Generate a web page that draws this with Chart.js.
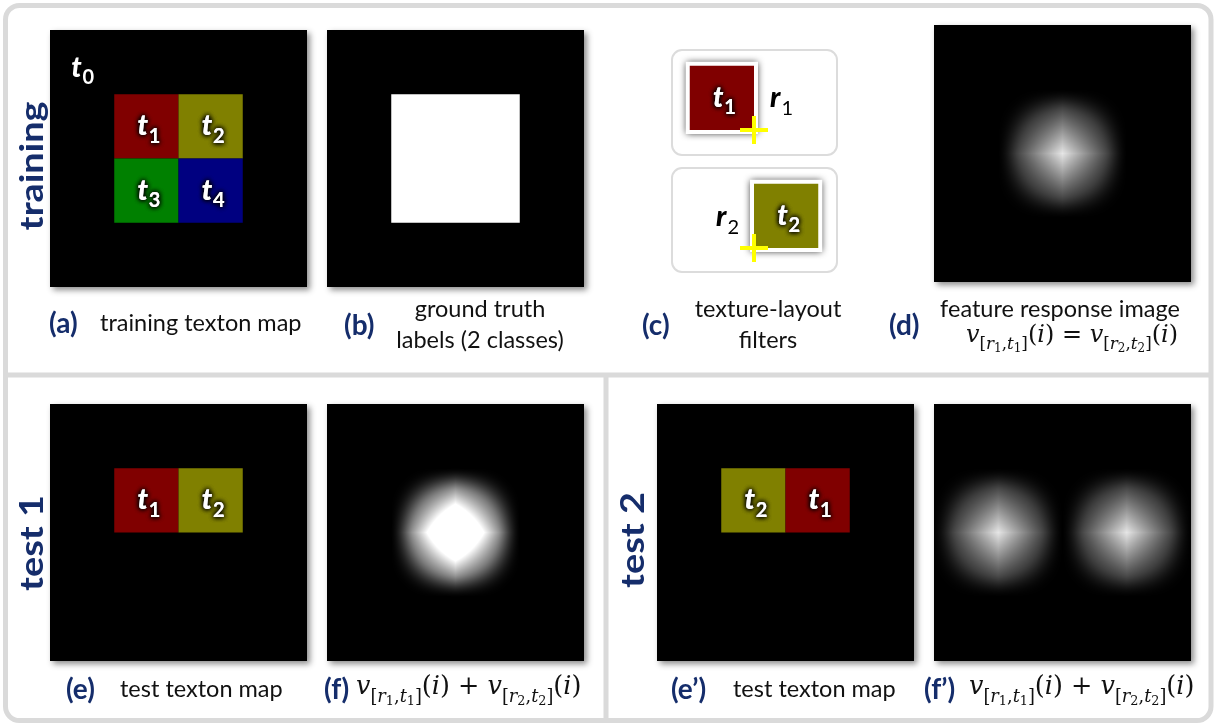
<!DOCTYPE html>
<html>
<head>
<meta charset="utf-8">
<script src="https://cdn.jsdelivr.net/npm/chart.js@4.4.1/dist/chart.umd.min.js"></script>
<style>
  html, body { margin: 0; padding: 0; background: #ffffff; }
  canvas { display: block; }
</style>
</head>
<body>
<canvas id="fig" width="1215" height="725"></canvas>
<script>
// ---- data (grid units: every texton map is 8 x 8 units) ----
const gridSize = 8;
const cellSize = 2;
const textonColors = ['#000000', '#800000', '#808000', '#008000', '#000080'];
// [column, row, texton]
const trainingCells = [[2, 2, 1], [4, 2, 2], [2, 4, 3], [4, 4, 4]];
const test1Cells = [[2, 2, 1], [4, 2, 2]];
const test2Cells = [[2, 2, 2], [4, 2, 1]];
const backgroundTexton = [1, 1.45, 0];
// [x, y, w, h] of the foreground class
const groundTruthBox = [2, 2, 4, 4];
// centres of the feature responses
const responseTrain = [[4, 4]];
const responseTest1 = [[4, 4], [4, 4]];
const responseTest2 = [[2, 4], [6, 4]];
const responsePeak = 0.9;
const responseRadius = 2.0;
// texture-layout filters: texton and offset of its patch from pixel i
const filterTextons = [1, 2];
const filterOffsetX = [-2, 0];
const filterOffsetY = [-2, -2];
const filterIds = ['1', '2'];

const W = 1215, H = 725;
const PANEL = 257;
const unit = PANEL / gridSize;
const navy = '#152d6b';
const sans = 'Lato, "Open Sans", sans-serif';
const serif = '"DejaVu Serif", "Liberation Serif", serif';

const panels = [
    { x: 50, y: 30, kind: 'texton', cells: trainingCells, bg: true },
    { x: 327, y: 30, kind: 'truth' },
    { x: 934, y: 25, kind: 'response', blobs: responseTrain },
    { x: 50, y: 404, kind: 'texton', cells: test1Cells },
    { x: 327, y: 404, kind: 'response', blobs: responseTest1 },
    { x: 657, y: 404, kind: 'texton', cells: test2Cells },
    { x: 934, y: 404, kind: 'response', blobs: responseTest2 },
];
const filterBoxes = [
    { x: 672, y: 50, w: 165, h: 105, ix: 754, iy: 130, lx: 770, ly: 107 },
    { x: 672, y: 168, w: 165, h: 104, ix: 754, iy: 248, lx: 716, ly: 226 },
];

const crossPoints = filterBoxes.map(b => ({ x: b.ix, y: b.iy }));

function response(dx, dy) {
    const u = Math.abs(dx) / responseRadius;
    const w = Math.abs(dy) / responseRadius;
    if (u >= 1 || w >= 1) return 0;
    const base = (1 - u) * (1 - w);
    const r = Math.sqrt(u * u + w * w);
    let t = Math.min(1, Math.max(0, (r - 0.65) / 0.55));
    const mask = 1 - t * t * (3 - 2 * t);
    return responsePeak * base * mask;
}

function responseImage(blobs, size) {
    const off = document.createElement('canvas');
    off.width = size; off.height = size;
    const octx = off.getContext('2d');
    const img = octx.createImageData(size, size);
    for (let py = 0; py < size; py++) {
        for (let px = 0; px < size; px++) {
            const ux = (px + 0.5) / unit, uy = (py + 0.5) / unit;
            let v = 0;
            blobs.forEach(b => { v += response(ux - b[0], uy - b[1]); });
            const g = Math.round(255 * Math.min(1, v));
            const k = (py * size + px) * 4;
            img.data[k] = g; img.data[k + 1] = g; img.data[k + 2] = g; img.data[k + 3] = 255;
        }
    }
    octx.putImageData(img, 0, 0);
    return off;
}

function roundRect(ctx, x, y, w, h, r) {
    ctx.beginPath();
    ctx.moveTo(x + r, y);
    ctx.arcTo(x + w, y, x + w, y + h, r);
    ctx.arcTo(x + w, y + h, x, y + h, r);
    ctx.arcTo(x, y + h, x, y, r);
    ctx.arcTo(x, y, x + w, y, r);
    ctx.closePath();
}

function drawSubLabel(ctx, cx, baseline, main, sub, size, color, glow) {
    const mainFont = `italic 900 ${size}px ${sans}`;
    const subFont = `bold ${Math.round(size * 0.7)}px ${sans}`;
    ctx.font = mainFont;
    const w1 = ctx.measureText(main).width;
    ctx.font = subFont;
    const w2 = ctx.measureText(sub).width;
    const x0 = cx - (w1 + w2) / 2;
    const passes = glow ? 3 : 1;
    ctx.save();
    ctx.fillStyle = color;
    ctx.textAlign = 'left';
    ctx.textBaseline = 'alphabetic';
    if (glow) { ctx.shadowColor = 'rgba(0,0,0,0.95)'; ctx.shadowBlur = 5; }
    for (let i = 0; i < passes; i++) {
        ctx.font = mainFont;
        ctx.fillText(main, x0, baseline);
        ctx.font = subFont;
        ctx.fillText(sub, x0 + w1 + 1, baseline + size * 0.27);
    }
    ctx.restore();
}

// v_[r_a,t_b](i)
function vTerm(a, b) {
    return [
        { s: 'v', it: true, k: 1, dy: 0 },
        { s: '[', it: false, k: 0.7, dy: 0.3 },
        { s: 'r', it: true, k: 0.7, dy: 0.3 },
        { s: a, it: false, k: 0.5, dy: 0.42 },
        { s: ',', it: false, k: 0.7, dy: 0.3 },
        { s: 't', it: true, k: 0.7, dy: 0.3 },
        { s: b, it: false, k: 0.5, dy: 0.42 },
        { s: ']', it: false, k: 0.7, dy: 0.3 },
        { s: '(', it: false, k: 1, dy: 0 },
        { s: 'i', it: true, k: 1, dy: 0 },
        { s: ')', it: false, k: 1, dy: 0 },
    ];
}

function drawMath(ctx, segs, x, baseline, size, align) {
    const fontOf = s => `${s.it ? 'italic ' : ''}${(size * s.k).toFixed(1)}px ${serif}`;
    let total = 0;
    segs.forEach(s => { ctx.font = fontOf(s); s.w = ctx.measureText(s.s).width; total += s.w; });
    let cx = align === 'center' ? x - total / 2 : x;
    ctx.save();
    ctx.fillStyle = '#111111';
    ctx.textAlign = 'left';
    ctx.textBaseline = 'alphabetic';
    segs.forEach(s => {
        ctx.font = fontOf(s);
        ctx.fillText(s.s, cx, baseline + s.dy * size);
        cx += s.w;
    });
    ctx.restore();
}

const opSeg = op => [{ s: ' ' + op + ' ', it: false, k: 1, dy: 0 }];

const figurePlugin = {
    id: 'figure',
    beforeDatasetsDraw(chart) {
        const ctx = chart.ctx;
        const xs = chart.scales.x, ys = chart.scales.y;
        const X = v => xs.getPixelForValue(v);
        const Y = v => ys.getPixelForValue(v);

        // frames
        ctx.save();
        ctx.strokeStyle = '#dadada';
        ctx.lineWidth = 5;
        roundRect(ctx, X(5.5), Y(5.5), X(1211) - X(5.5), Y(720.5) - Y(5.5), 14);
        ctx.stroke();
        ctx.beginPath();
        ctx.moveTo(X(5.5), Y(375)); ctx.lineTo(X(1211), Y(375));
        ctx.moveTo(X(606), Y(375)); ctx.lineTo(X(606), Y(720.5));
        ctx.stroke();
        ctx.restore();

        // image panels
        panels.forEach(p => {
            const px = X(p.x), py = Y(p.y);
            const gx = u => px + u * unit;
            const gy = u => py + u * unit;
            ctx.save();
            ctx.shadowColor = 'rgba(0,0,0,0.45)';
            ctx.shadowBlur = 6;
            ctx.shadowOffsetX = 3;
            ctx.shadowOffsetY = 3;
            ctx.fillStyle = '#000000';
            ctx.fillRect(px, py, PANEL, PANEL);
            ctx.restore();
            if (p.kind === 'texton') {
                p.cells.forEach(c => {
                    ctx.fillStyle = textonColors[c[2]];
                    ctx.fillRect(gx(c[0]), gy(c[1]), cellSize * unit, cellSize * unit);
                });
                p.cells.forEach(c => {
                    drawSubLabel(ctx, gx(c[0] + cellSize / 2) + 2, gy(c[1] + cellSize / 2) + 9,
                        't', String(c[2]), 28, '#ffffff', true);
                });
                if (p.bg) {
                    drawSubLabel(ctx, gx(backgroundTexton[0]), gy(backgroundTexton[1]),
                        't', String(backgroundTexton[2]), 28, '#ffffff', false);
                }
            } else if (p.kind === 'truth') {
                const b = groundTruthBox;
                ctx.fillStyle = '#ffffff';
                ctx.fillRect(gx(b[0]), gy(b[1]), b[2] * unit, b[3] * unit);
            } else {
                ctx.drawImage(responseImage(p.blobs, PANEL), px, py);
            }
        });

        // texture-layout filters
        filterBoxes.forEach((b, i) => {
            ctx.save();
            ctx.strokeStyle = '#dcdcdc';
            ctx.lineWidth = 2;
            roundRect(ctx, X(b.x), Y(b.y), b.w, b.h, 10);
            ctx.stroke();
            const sx = X(b.ix) + filterOffsetX[i] * unit;
            const sy = Y(b.iy) + filterOffsetY[i] * unit;
            const s = cellSize * unit;
            ctx.shadowColor = 'rgba(0,0,0,0.8)';
            ctx.shadowBlur = 7;
            ctx.fillStyle = '#ffffff';
            ctx.fillRect(sx - 4, sy - 4, s + 8, s + 8);
            ctx.shadowColor = 'transparent';
            ctx.fillStyle = textonColors[filterTextons[i]];
            ctx.fillRect(sx, sy, s, s);
            ctx.restore();
            drawSubLabel(ctx, sx + s / 2 + 2, sy + s / 2 + 9, 't', String(filterTextons[i]), 28, '#ffffff', true);
        });
    },
    afterDatasetsDraw(chart) {
        const ctx = chart.ctx;
        const xs = chart.scales.x, ys = chart.scales.y;
        const X = v => xs.getPixelForValue(v);
        const Y = v => ys.getPixelForValue(v);

        // r labels
        filterBoxes.forEach((b, i) => {
            ctx.save();
            ctx.fillStyle = '#000000';
            ctx.textBaseline = 'alphabetic';
            ctx.font = `italic 900 29px ${sans}`;
            ctx.fillText('r', X(b.lx), Y(b.ly));
            const w = ctx.measureText('r').width;
            ctx.font = `20px ${sans}`;
            ctx.fillText(filterIds[i], X(b.lx) + w + 1, Y(b.ly) + 8);
            ctx.restore();
        });

        // row titles
        const rowTitle = (text, cx, cy) => {
            ctx.save();
            ctx.translate(X(cx), Y(cy));
            ctx.rotate(-Math.PI / 2);
            ctx.scale(1.18, 1);
            ctx.fillStyle = navy;
            ctx.font = `bold 32px ${sans}`;
            ctx.textAlign = 'center';
            ctx.textBaseline = 'middle';
            ctx.fillText(text, 0, 0);
            ctx.restore();
        };
        rowTitle('training', 33, 166);
        rowTitle('test 1', 33, 543);
        rowTitle('test 2', 634, 540);

        // captions
        const tag = (text, x, y) => {
            ctx.save();
            ctx.fillStyle = navy;
            ctx.font = `bold 28px ${sans}`;
            ctx.textAlign = 'left';
            ctx.fillText(text, X(x), Y(y));
            ctx.restore();
        };
        const line = (text, x, y, align) => {
            ctx.save();
            ctx.fillStyle = '#111111';
            ctx.font = `23.5px ${sans}`;
            ctx.textAlign = align;
            ctx.fillText(text, X(x), Y(y));
            ctx.restore();
        };
        tag('(a)', 49, 333); line('training texton map', 100, 331, 'left');
        tag('(b)', 344, 335); line('ground truth', 480, 317, 'center'); line('labels (2 classes)', 480, 348, 'center');
        tag('(c)', 642, 335); line('texture-layout', 768, 317, 'center'); line('filters', 768, 348, 'center');
        tag('(d)', 889, 335); line('feature response image', 1060, 317, 'center');
        drawMath(ctx, [...vTerm('1', '1'), ...opSeg('='), ...vTerm('2', '2')], X(1072), Y(342), 24, 'center');
        tag('(e)', 66, 699); line('test texton map', 120, 697, 'left');
        tag('(f)', 324, 699);
        drawMath(ctx, [...vTerm('1', '1'), ...opSeg('+'), ...vTerm('2', '2')], X(356), Y(694), 25.5, 'left');
        tag('(e\u2019)', 671, 699); line('test texton map', 733, 697, 'left');
        tag('(f\u2019)', 924, 699);
        drawMath(ctx, [...vTerm('1', '1'), ...opSeg('+'), ...vTerm('2', '2')], X(969), Y(694), 25.5, 'left');
    }
};

new Chart(document.getElementById('fig'), {
    type: 'scatter',
    data: {
        datasets: [{
            data: crossPoints,
            pointStyle: 'cross',
            pointRadius: 14,
            borderWidth: 4,
            borderColor: '#ffff00',
            backgroundColor: '#ffff00',
            clip: false,
        }]
    },
    options: {
        responsive: false,
        animation: false,
        devicePixelRatio: 1,
        events: [],
        layout: { padding: 0, autoPadding: false },
        plugins: { legend: { display: false }, tooltip: { enabled: false } },
        scales: {
            x: { type: 'linear', min: 0, max: W, display: false },
            y: { type: 'linear', min: 0, max: H, reverse: true, display: false },
        }
    },
    plugins: [figurePlugin]
});
</script>
</body>
</html>
